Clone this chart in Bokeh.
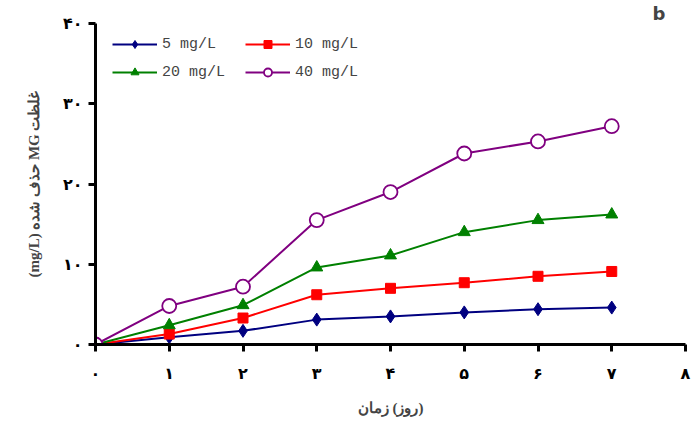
from bokeh.plotting import figure
from bokeh.models import FixedTicker, Legend, LegendItem, Range1d
from bokeh.embed import file_html
from bokeh.resources import INLINE

days = [0, 1, 2, 3, 4, 5, 6, 7]
s5 = [0, 0.9, 1.7, 3.1, 3.5, 4.0, 4.4, 4.6]
s10 = [0, 1.3, 3.3, 6.2, 7.0, 7.7, 8.5, 9.1]
s20 = [0, 2.4, 4.9, 9.6, 11.1, 14.0, 15.5, 16.2]
s40 = [0, 4.8, 7.2, 15.5, 19.0, 23.8, 25.3, 27.2]
labels = ["5 mg/L", "10 mg/L", "20 mg/L", "40 mg/L"]
x_ticks = [0, 1, 2, 3, 4, 5, 6, 7, 8]
x_tick_labels = ["۰", "۱", "۲", "۳", "۴", "۵", "۶", "۷", "۸"]
y_ticks = [0, 10, 20, 30, 40]
y_tick_labels = ["۰", "۱۰", "۲۰", "۳۰", "۴۰"]

p = figure(width=691, height=432, output_backend="svg", toolbar_location=None,
           x_range=Range1d(0, 8), y_range=Range1d(0, 40),
           min_border_left=95, min_border_right=6, min_border_top=0, min_border_bottom=88)
p.outline_line_color = None
p.xgrid.visible = False
p.ygrid.visible = False
p.background_fill_color = "white"
p.border_fill_color = "white"

p.title.text = "b"
p.title.align = "right"
p.title.text_font = "DejaVu Sans"
p.title.text_font_style = "bold"
p.title.text_font_size = "18px"
p.title.standoff = 0
p.title.offset = 20

for ax in (p.xaxis[0], p.yaxis[0]):
    ax.axis_line_width = 3
    ax.axis_line_color = "black"
    ax.major_tick_line_width = 3
    ax.major_tick_in = 0
    ax.major_tick_out = 7
    ax.minor_tick_line_color = None
    ax.major_label_text_font = "DejaVu Sans"
    ax.major_label_text_font_style = "bold"
    ax.major_label_text_font_size = "16px"
    ax.major_label_text_color = "black"

p.xaxis.ticker = FixedTicker(ticks=x_ticks)
p.xaxis.major_label_overrides = {t: l for t, l in zip(x_ticks, x_tick_labels)}
p.yaxis.ticker = FixedTicker(ticks=y_ticks)
p.yaxis.major_label_overrides = {t: l for t, l in zip(y_ticks, y_tick_labels)}
p.xaxis.major_label_standoff = 12
p.yaxis.major_label_standoff = 6

p.xaxis.axis_label = "زمان\u200e (روز)"
p.xaxis.axis_label_text_font = "Liberation Serif"
p.xaxis.axis_label_text_font_style = "bold"
p.xaxis.axis_label_text_font_size = "15px"
p.xaxis.axis_label_standoff = 14
p.yaxis.axis_label = "(mg/L) حذف شده MG غلظت"
p.yaxis.axis_label_text_font = "Liberation Serif"
p.yaxis.axis_label_text_font_style = "bold"
p.yaxis.axis_label_text_font_size = "15px"
p.yaxis.axis_label_standoff = 18

series = [s5, s10, s20, s40]
colors = ["#000080", "#ff0000", "#008000", "#800080"]
markers = ["diamond", "square", "triangle", "circle"]
sizes = [13, 10, 12, 14]
items = []
for ys, c, m, sz, lab in zip(series, colors, markers, sizes, labels):
    lr = p.line(days, ys, line_color=c, line_width=2)
    fill = "white" if m == "circle" else c
    sr = p.scatter(days, ys, marker=m, size=sz, fill_color=fill, line_color=c,
                   line_width=1.8 if m == "circle" else 1)
    items.append(LegendItem(label=lab, renderers=[lr, sr]))

legend = Legend(items=items, orientation="horizontal", ncols=2,
                location=(17, 262), padding=0, margin=0, spacing=8,
                glyph_width=45, glyph_height=20, label_height=20,
                label_width=75, label_standoff=5,
                label_text_font="Liberation Mono", label_text_font_size="15px",
                border_line_color=None, background_fill_alpha=0)
p.add_layout(legend, "center")

open("out.html", "w").write(file_html(p, INLINE))
